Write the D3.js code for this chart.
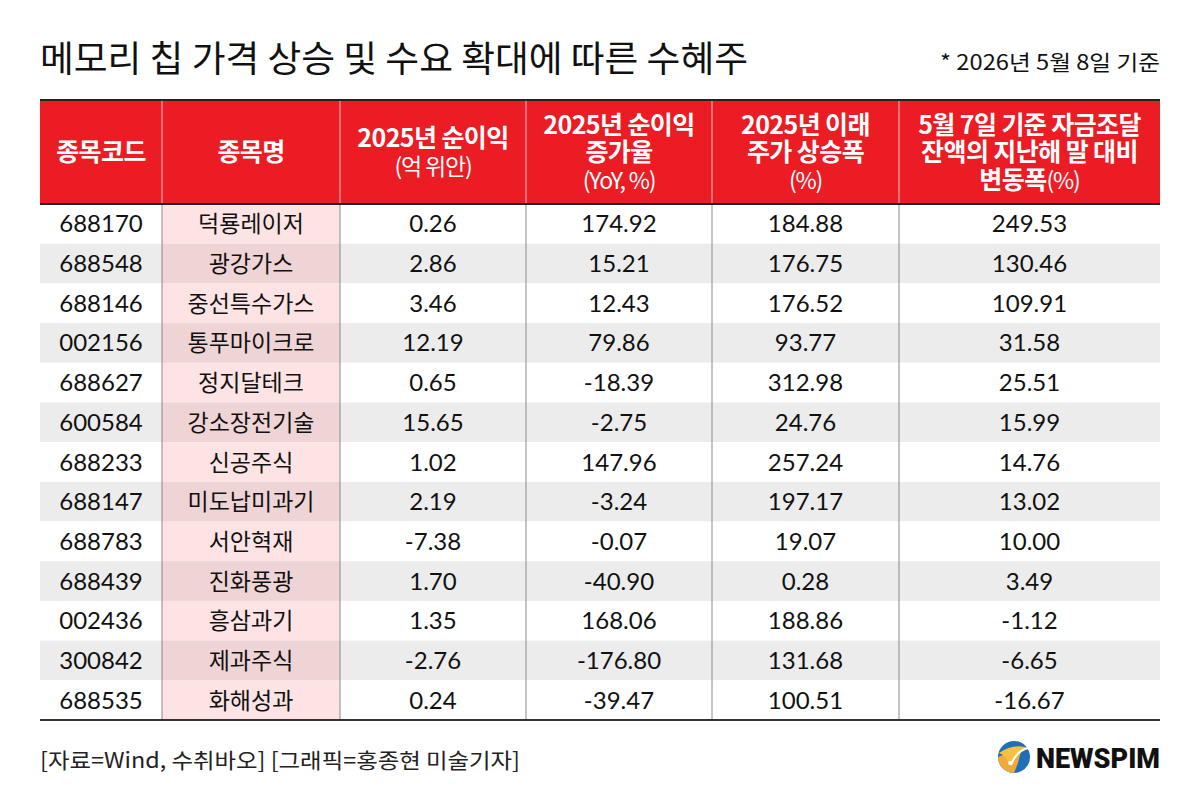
<!DOCTYPE html>
<html><head><meta charset="utf-8">
<script src="https://cdn.jsdelivr.net/npm/d3@7"></script>
<style>html,body{margin:0;padding:0;background:#fff}svg{display:block}</style>
</head><body>
<script>
// ---- data ----
const codes = ["688170","688548","688146","002156","688627","600584","688233","688147","688783","688439","002436","300842","688535"];
const names = ["덕룡레이저","광강가스","중선특수가스","통푸마이크로","정지달테크","강소장전기술","신공주식","미도납미과기","서안혁재","진화풍광","흥삼과기","제과주식","화해성과"];
const netProfit2025 = ["0.26","2.86","3.46","12.19","0.65","15.65","1.02","2.19","-7.38","1.70","1.35","-2.76","0.24"];
const profitGrowth = ["174.92","15.21","12.43","79.86","-18.39","-2.75","147.96","-3.24","-0.07","-40.90","168.06","-176.80","-39.47"];
const priceRise = ["184.88","176.75","176.52","93.77","312.98","24.76","257.24","197.17","19.07","0.28","188.86","131.68","100.51"];
const fundingChange = ["249.53","130.46","109.91","31.58","25.51","15.99","14.76","13.02","10.00","3.49","-1.12","-6.65","-16.67"];
const headers = [
  [[{t:"종목코드",b:true}]],
  [[{t:"종목명",b:true}]],
  [[{t:"2025년 순이익",b:true}],[{t:"(억 위안)",b:false}]],
  [[{t:"2025년 순이익",b:true}],[{t:"증가율",b:true}],[{t:"(YoY, %)",b:false}]],
  [[{t:"2025년 이래",b:true}],[{t:"주가 상승폭",b:true}],[{t:"(%)",b:false}]],
  [[{t:"5월 7일 기준 자금조달",b:true}],[{t:"잔액의 지난해 말 대비",b:true}],[{t:"변동폭",b:true},{t:"(%)",b:false}]]
];
const title = "메모리 칩 가격 상승 및 수요 확대에 따른 수혜주";
const note = "* 2026년 5월 8일 기준";
const source = "[자료=Wind, 수취바오] [그래픽=홍종현 미술기자]";

// ---- layout ----
const W = 1200, H = 808;
const colEdges = [40,162,340,526,712,899,1160];
const headTop = 100, headBottom = 204, tableBottom = 720;
const FONT = "Lato, 'Noto Sans CJK KR', sans-serif";
const KFONT = "'Noto Sans CJK KR', sans-serif";

const svg = d3.select("body").append("svg").attr("width",W).attr("height",H);

const rows = codes.map((c,i)=>[c,names[i],netProfit2025[i],profitGrowth[i],priceRise[i],fundingChange[i]]);
const y = d3.scaleBand().domain(d3.range(rows.length)).range([headBottom, tableBottom]).padding(0);
const x = d3.scaleOrdinal().domain(d3.range(6)).range(d3.range(6).map(i=>(colEdges[i]+colEdges[i+1])/2));

// title
svg.append("text").attr("x",40).attr("y",72).attr("font-family",KFONT).attr("font-size",36).attr("font-weight",400)
  .attr("fill","#111").attr("textLength",708).attr("lengthAdjust","spacingAndGlyphs").text(title);
svg.append("text").attr("x",1160).attr("y",70).attr("text-anchor","end").attr("font-family",KFONT).attr("font-size",21)
  .attr("fill","#111").attr("textLength",220).attr("lengthAdjust","spacingAndGlyphs").text(note);

// header
svg.append("rect").attr("x",colEdges[0]).attr("y",headTop).attr("width",colEdges[6]-colEdges[0]).attr("height",headBottom-headTop).attr("fill","#ec1c24");
const hg = svg.append("g");
headers.forEach((lines,ci)=>{
  const n = lines.length;
  const lh = 27.5;
  const mid = (headTop+headBottom)/2;
  lines.forEach((ln,li)=>{
    const by = mid + (li-(n-1)/2)*lh + 9;
    const t = hg.append("text").attr("x",x(ci)).attr("y",by).attr("text-anchor","middle")
      .attr("font-family",KFONT).attr("fill","#fff");
    t.selectAll("tspan").data(ln).join("tspan")
      .attr("font-size",d=>d.b?25:23).attr("font-weight",d=>d.b?700:400)
      .attr("letter-spacing",d=>d.b?-0.6:-1.2).text(d=>d.t);
  });
});
for(let i=1;i<6;i++){
  svg.append("line").attr("x1",colEdges[i]).attr("x2",colEdges[i]).attr("y1",headTop).attr("y2",headBottom)
    .attr("stroke","#f6a5a8").attr("stroke-width",1.2);
}

// body backgrounds
const body = svg.append("g");
body.selectAll("rect.band").data(rows).join("rect").attr("class","band")
  .attr("x",colEdges[0]).attr("y",(d,i)=>y(i)).attr("width",colEdges[6]-colEdges[0]).attr("height",y.bandwidth())
  .attr("fill",(d,i)=>i%2===1?"#ececec":"#ffffff");
body.selectAll("rect.name").data(rows).join("rect").attr("class","name")
  .attr("x",colEdges[1]).attr("y",(d,i)=>y(i)).attr("width",colEdges[2]-colEdges[1]).attr("height",y.bandwidth())
  .attr("fill",(d,i)=>i%2===1?"#efd4d5":"#fde3e3");
for(let i=1;i<6;i++){
  body.append("line").attr("x1",colEdges[i]).attr("x2",colEdges[i]).attr("y1",headBottom).attr("y2",tableBottom)
    .attr("stroke","#8a8a8a").attr("stroke-width",1);
}
const rg = body.selectAll("g.row").data(rows).join("g").attr("class","row")
  .attr("transform",(d,i)=>`translate(0,${y(i)+y.bandwidth()/2+8.5})`);
rg.selectAll("text").data(d=>d).join("text")
  .attr("x",(d,i)=>x(i)).attr("text-anchor","middle")
  .attr("font-family",(d,i)=>i===1?KFONT:FONT).attr("font-size",(d,i)=>i===1?23:24)
  .attr("fill","#111").text(d=>d);

// borders
svg.append("line").attr("x1",colEdges[0]).attr("x2",colEdges[6]).attr("y1",headTop).attr("y2",headTop).attr("stroke","#222").attr("stroke-width",2);
svg.append("line").attr("x1",colEdges[0]).attr("x2",colEdges[6]).attr("y1",headBottom).attr("y2",headBottom).attr("stroke","#222").attr("stroke-width",2);
svg.append("line").attr("x1",colEdges[0]).attr("x2",colEdges[6]).attr("y1",tableBottom).attr("y2",tableBottom).attr("stroke","#333").attr("stroke-width",2);

// source
svg.append("text").attr("x",40).attr("y",768).attr("font-family",KFONT).attr("font-size",21)
  .attr("fill","#222").attr("textLength",480).attr("lengthAdjust","spacingAndGlyphs").text(source);

// logo
const lg = svg.append("g").attr("transform","translate(1014,757)");
lg.append("circle").attr("r",16).attr("fill","#1f6fb8");
lg.append("path").attr("d","M-16,0 A16,16 0 0 0 0,16 L4,6 L8,-10 Z").attr("fill","#f2a93b");
lg.append("path").attr("d","M-15,-4 Q0,-14 14,-9 Q4,-4 -4,8 Q-8,-2 -15,-4 Z").attr("fill","#f6c042");
lg.append("path").attr("d","M-3,8 Q2,-6 14,-9").attr("stroke","#fff").attr("stroke-width",2).attr("fill","none");
lg.append("circle").attr("cx",-4).attr("cy",6).attr("r",2).attr("fill","#fff");
svg.append("text").attr("x",1036).attr("y",768).attr("font-family","'Roboto', 'Liberation Sans', sans-serif").attr("font-weight",900)
  .attr("font-size",27).attr("fill","#111").attr("textLength",124).attr("lengthAdjust","spacingAndGlyphs").text("NEWSPIM");
</script>
</body></html>
